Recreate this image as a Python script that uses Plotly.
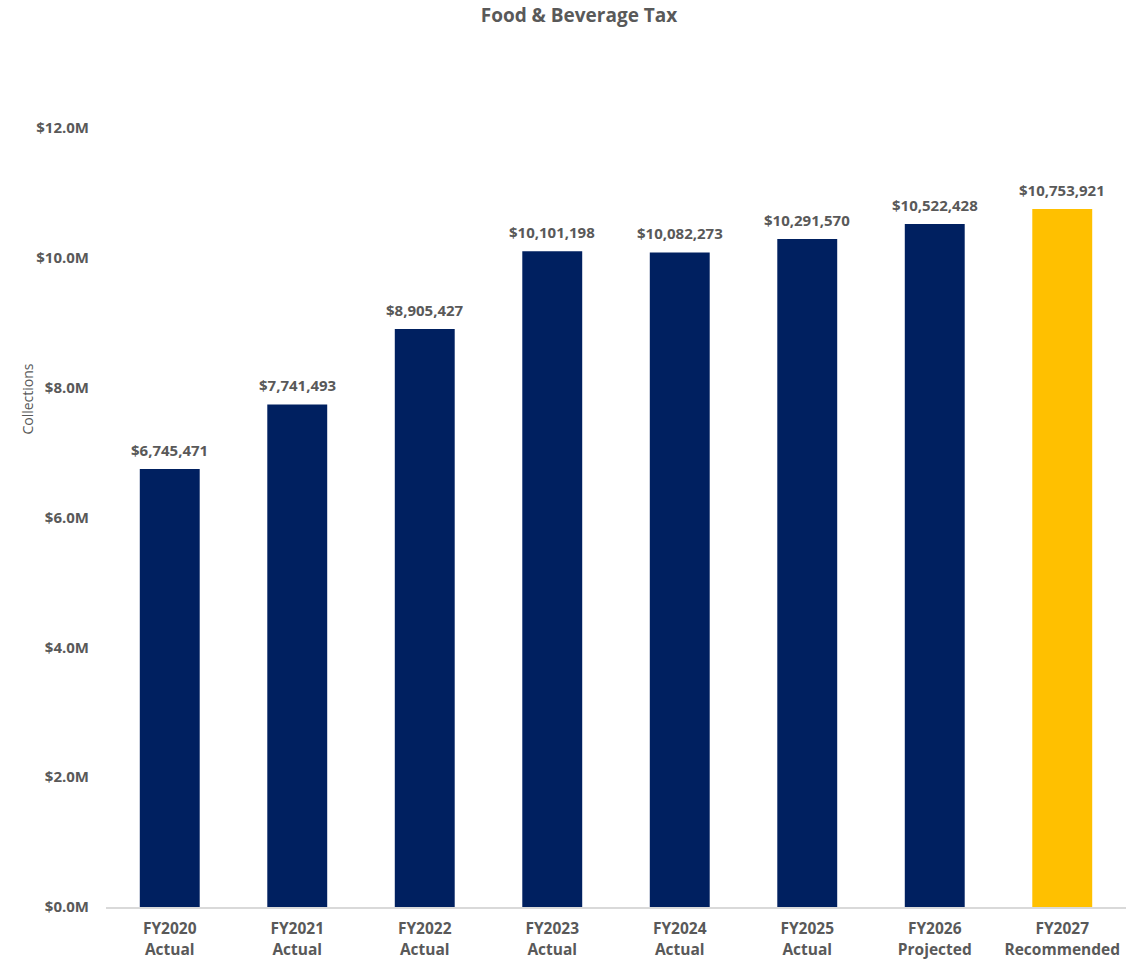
import plotly.graph_objects as go

years = ["FY2020", "FY2021", "FY2022", "FY2023", "FY2024", "FY2025", "FY2026", "FY2027"]
kinds = ["Actual", "Actual", "Actual", "Actual", "Actual", "Actual", "Projected", "Recommended"]
collections = [6745471, 7741493, 8905427, 10101198, 10082273, 10291570, 10522428, 10753921]
bar_colors = ["#002060"] * 7 + ["#FFC000"]
y_ticks = [0, 2e6, 4e6, 6e6, 8e6, 10e6, 12e6]
y_tick_text = ["$0.0M", "$2.0M", "$4.0M", "$6.0M", "$8.0M", "$10.0M", "$12.0M"]

FONT = "Open Sans"
GRAY = "#595959"

cats = [f"<b>{y}</b><br><b>{k}</b>" for y, k in zip(years, kinds)]
labels = [f"${v:,.0f}" for v in collections]

fig = go.Figure(go.Bar(
    x=cats, y=collections, marker=dict(color=bar_colors, line=dict(width=0)),
    hoverinfo="skip",
))

annotations = [
    dict(x=c, y=v, xref="x", yref="y", text=f"<b>{t}</b>", showarrow=False,
         yanchor="middle", xanchor="center", yshift=19,
         font=dict(family=FONT, size=15, color=GRAY))
    for c, v, t in zip(cats, collections, labels)
]
annotations.append(dict(text="Collections", xref="paper", yref="paper",
                        x=-0.077, y=0.652, xanchor="center", yanchor="middle",
                        textangle=-90, showarrow=False,
                        font=dict(family=FONT, size=14, color=GRAY)))

fig.update_layout(
    width=1143, height=963,
    margin=dict(l=106, r=17, t=128, b=56),
    plot_bgcolor="white", paper_bgcolor="white",
    bargap=0.53, showlegend=False,
    title=dict(text="<b>Food & Beverage Tax</b>", x=579 / 1143, xanchor="center",
               y=1 - 15 / 963, yanchor="middle",
               font=dict(family=FONT, size=19, color=GRAY)),
    xaxis=dict(showline=True, linecolor="#D9D9D9", linewidth=1.5,
               tickfont=dict(family=FONT, size=15.5, color=GRAY),
               ticks="", showgrid=False, ticklabelstandoff=7, automargin=False),
    yaxis=dict(range=[0, 12e6], tickvals=y_ticks, ticktext=y_tick_text,
               showgrid=False, zeroline=False, showline=False,
               tickfont=dict(family=FONT, size=15, color=GRAY, weight="bold"),
               ticklabelstandoff=16, automargin=False),
    annotations=annotations,
)

fig.write_html("out.html", config={"displayModeBar": False},
               post_script="document.body.style.margin='0';")
